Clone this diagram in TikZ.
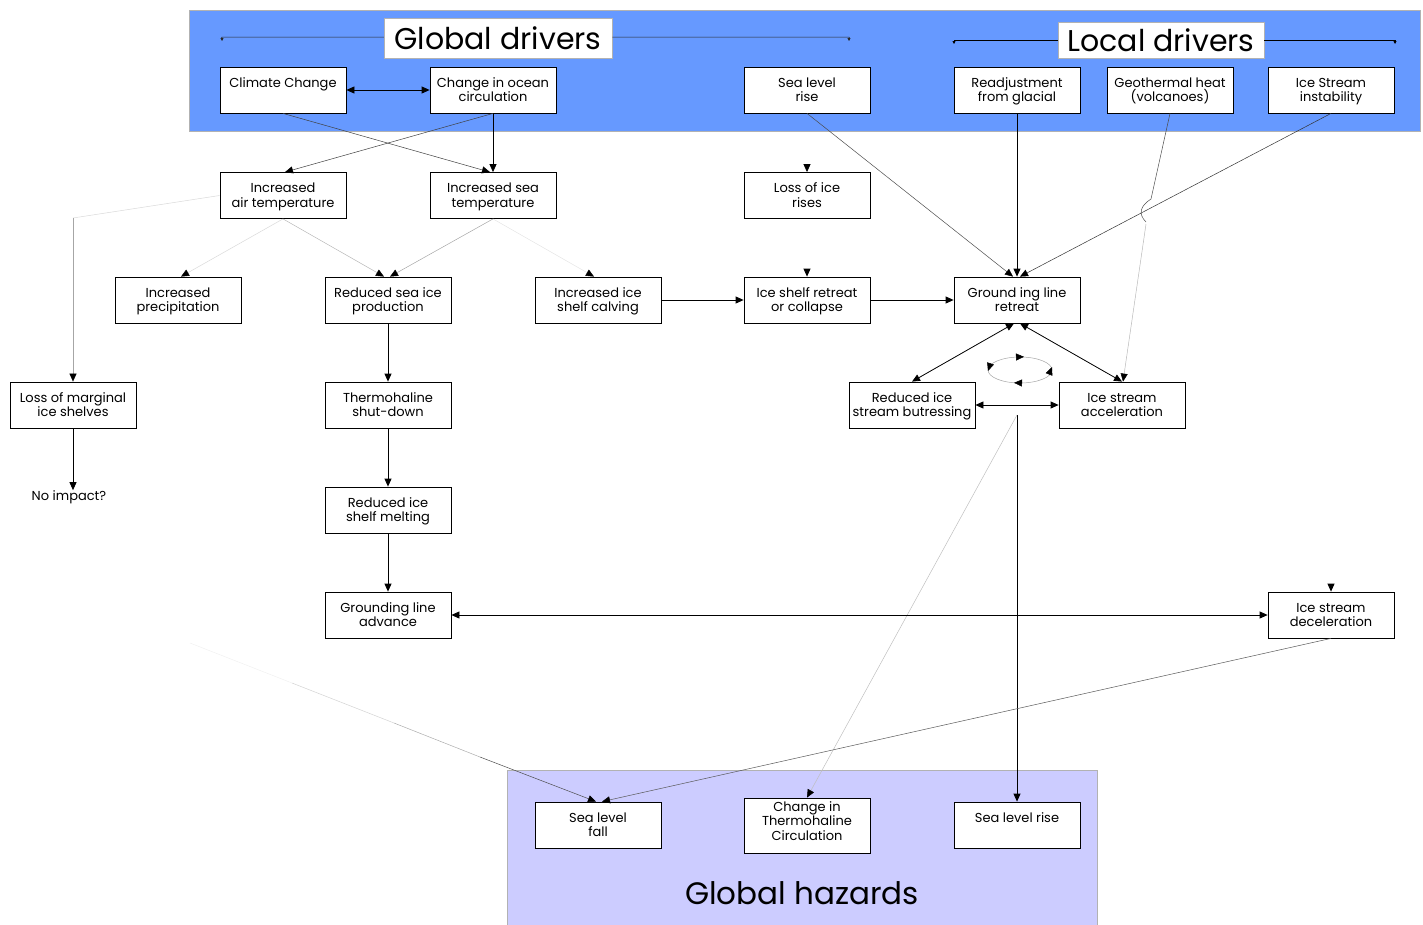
\documentclass[tikz,border=0pt]{standalone}
\usepackage{fontspec}
\setmainfont{Poppins}
\usetikzlibrary{arrows.meta,calc}
\definecolor{topband}{RGB}{102,153,255}
\definecolor{botband}{RGB}{204,204,255}
\newcommand\bt[1]{\parbox[c][46pt][t]{126pt}{\centering\rule{0pt}{20pt}#1}}
\begin{document}
\begin{tikzpicture}[x=1pt,y=-1pt,
  box/.style={draw, fill=white, line width=0.8pt, inner sep=0pt, font=\fontsize{13}{14.5}\selectfont},
  bigl/.style={draw=gray!60, fill=white, line width=0.5pt, inner sep=0pt, font=\fontsize{30}{34}\selectfont},
  tip/.style={-{Triangle[length=8pt,width=7pt,color=black]}},
  dtip/.style={{Triangle[length=8pt,width=7pt,color=black]}-{Triangle[length=8pt,width=7pt,color=black]}},
  bold/.style={line width=0.8pt, draw=black},
  fine/.style={line width=0.5pt, draw=black!75},
  light/.style={line width=0.5pt, draw=gray!55},
  faint/.style={line width=0.5pt, draw=gray!30},
]
\useasboundingbox (0,0) rectangle (1423,924);
% bands
\fill[topband, draw=gray!60, line width=0.6pt] (189,10) rectangle (1420,131);
\fill[botband, draw=gray!60, line width=0.6pt] (507,770) rectangle (1097,926);

% big labels
\node[bigl, minimum width=228pt, minimum height=40pt] (gd) at (498,38) {Global drivers};
\node[bigl, minimum width=206pt, minimum height=36pt] (ld) at (1161,40) {Local drivers};
\node[inner sep=0pt, font=\fontsize{31}{35}\selectfont] (gh) at (802,893) {Global hazards};

% bracket lines
\coordinate (gdl) at (222,41); \coordinate (gdlt) at (222,37);
\coordinate (gdr) at (849,41); \coordinate (gdrt) at (849,37);
\draw[line width=0.5pt, draw=black!85, -{Triangle[length=3pt,width=3pt]}] (gd.west |- gdlt) -- (gdlt) to[out=180,in=90] (gdl);
\draw[line width=0.5pt, draw=black!85, -{Triangle[length=3pt,width=3pt]}] (gd.east |- gdrt) -- (gdrt) to[out=0,in=90] (gdr);
\coordinate (ldl) at (954,44); \coordinate (ldlt) at (954,40);
\coordinate (ldr) at (1395,44); \coordinate (ldrt) at (1395,40);
\draw[bold, -{Triangle[length=3pt,width=3pt]}] (ld.west |- ldlt) -- (ldlt) -- (ldl);
\draw[bold, -{Triangle[length=3pt,width=3pt]}] (ld.east |- ldrt) -- (ldrt) -- (ldr);

% boxes
\node[box] (cc)   at (283,90)  {\bt{Climate Change}};
\node[box] (coc)  at (493,90)  {\bt{Change in ocean\\circulation}};
\node[box] (slr)  at (807,90)  {\bt{Sea level\\rise}};
\node[box] (rg)   at (1017,90) {\bt{Readjustment\\from glacial}};
\node[box] (geo)  at (1170,90) {\bt{Geothermal heat\\(volcanoes)}};
\node[box] (isi)  at (1331,90) {\bt{Ice Stream\\instability}};
\node[box] (iat)  at (283,195.5) {\bt{Increased\\air temperature}};
\node[box] (ist)  at (493,195.5) {\bt{Increased sea\\temperature}};
\node[box] (lir)  at (807,195.5) {\bt{Loss of ice\\rises}};
\node[box] (ip)   at (178,300) {\bt{Increased\\precipitation}};
\node[box] (rsip) at (388,300) {\bt{Reduced sea ice\\production}};
\node[box] (isc)  at (598,300) {\bt{Increased ice\\shelf calving}};
\node[box] (isr)  at (807,300) {\bt{Ice shelf retreat\\or collapse}};
\node[box] (glr)  at (1017,300) {\bt{Ground ing line\\retreat}};
\node[box] (lmis) at (73,405) {\bt{Loss of marginal\\ice shelves}};
\node[box] (ths)  at (388,405) {\bt{Thermohaline\\shut-down}};
\node[box] (risb) at (912,405) {\bt{Reduced ice\\stream butressing}};
\node[box] (isa)  at (1122,405) {\bt{Ice stream\\acceleration}};
\node[box] (rism) at (388,510) {\bt{Reduced ice\\shelf melting}};
\node[box] (gla)  at (388,615) {\bt{Grounding line\\advance}};
\node[box] (isd)  at (1331,615) {\bt{Ice stream\\deceleration}};
\node[box] (slf)  at (598,825) {\bt{Sea level\\fall}};
\node[box] (cthc) at (807,825.5) {\parbox[c][55pt][t]{126pt}{\centering\rule{0pt}{13pt}Change in\\Thermohaline\\Circulation}};
\node[box] (slrb) at (1017,825) {\bt{Sea level rise}};
\node[inner sep=0pt, font=\fontsize{13}{14.5}\selectfont] (noimp) at (69,497) {No impact?};

% connectors: top
\draw[bold, dtip] (cc.east) -- (coc.west);
\draw[fine, tip] (cc.south) -- ($(ist.north)+(-3,0)$);
\draw[fine, tip] (coc.south) -- ($(iat.north)+(2,0)$);
\draw[bold, tip] (coc.south) -- (ist.north);
% air temperature
\coordinate (bendA) at (73,218);
\draw[faint] (iat.west) -- (bendA);
\draw[light, draw=gray!70, tip] (bendA) -- (lmis.north);
\draw[faint, tip] (iat.south) -- ($(ip.north)+(3,0)$);
\draw[light, tip] (iat.south) -- ($(rsip.north)+(-4,0)$);
\draw[fine, draw=gray!70, tip] (ist.south) -- ($(rsip.north)+(2,0)$);
\draw[faint, draw=gray!20, tip] (ist.south) -- ($(isc.north)+(-4,0)$);
% vertical chain
\draw[bold, tip] (rsip.south) -- (ths.north);
\draw[bold, tip] (ths.south) -- (rism.north);
\draw[bold, tip] (rism.south) -- (gla.north);
\draw[bold, tip] (lmis.south) -- (lmis.south |- noimp.north);
% horizontal chain
\draw[bold, tip] (isc.east) -- (isr.west);
\draw[bold, tip] (isr.east) -- (glr.west);
% into grounding line retreat
\draw[fine, draw=black!70, tip] (slr.south) -- ($(glr.north)+(-4,0)$);
\draw[bold, tip] (rg.south) -- (glr.north);
\draw[fine, draw=black!80, tip] (isi.south) -- ($(glr.north)+(3,0)$);
% geothermal with hop
\coordinate (hopA) at (1151,199);
\coordinate (hopB) at (1146,224);
\draw[fine, draw=black!70] (geo.south) -- (hopA) .. controls (1140,206) and (1138,214) .. (1146,222);
\draw[light, tip] (hopB) -- ($(isa.north)+(1,0)$);
% feedback triangle
\draw[bold, dtip] ($(glr.south)+(-3,0)$) -- (risb.north);
\draw[bold, dtip] ($(glr.south)+(3,0)$) -- (isa.north);
\draw[bold, dtip] (risb.east) -- (isa.west);
% cycle
\coordinate (cyc) at (1020,370);
\draw[fine, draw=gray!70, line width=0.5pt] (cyc) ellipse [x radius=32pt, y radius=13pt];
\draw[fine, tip] ($(cyc)+(-4,-13)$) -- ($(cyc)+(4,-13.2)$);
\draw[fine, tip] ($(cyc)+(30,2)$) -- ($(cyc)+(32,-3)$);
\draw[fine, tip] ($(cyc)+(2,13)$) -- ($(cyc)+(-6,12.8)$);
\draw[fine, tip] ($(cyc)+(-30,-5)$) -- ($(cyc)+(-32,1)$);
% down to hazards
\coordinate (split) at (1017,415);
\draw[bold, tip] (split) -- (slrb.north);
\draw[light, draw=gray!50, tip] (split) -- (cthc.north);
% advance <-> deceleration
\draw[bold, dtip] (gla.east) -- (isd.west);
\draw[fine, draw=black!65, tip] (isd.south) -- ($(slf.north)+(4,0)$);
\coordinate (fade) at (190,643);
\coordinate (fade1) at (292,683);
\coordinate (fade2) at (394,723);
\coordinate (fade3) at (480,757);
\draw[faint, draw=gray!12] (fade) -- (fade1);
\draw[faint, draw=gray!35] (fade1) -- (fade2);
\draw[faint, draw=gray!65] (fade2) -- (fade3);
\draw[fine, draw=black!70, tip] (fade3) -- ($(slf.north)+(-2,0)$);
% stub arrows
\coordinate (s1) at (807,165);
\draw[bold, tip] (s1) -- (lir.north);
\coordinate (s2) at (807,269);
\draw[bold, tip] (s2) -- (isr.north);
\coordinate (s3) at (1331,584);
\draw[bold, tip] (s3) -- (isd.north);
\end{tikzpicture}
\end{document}
